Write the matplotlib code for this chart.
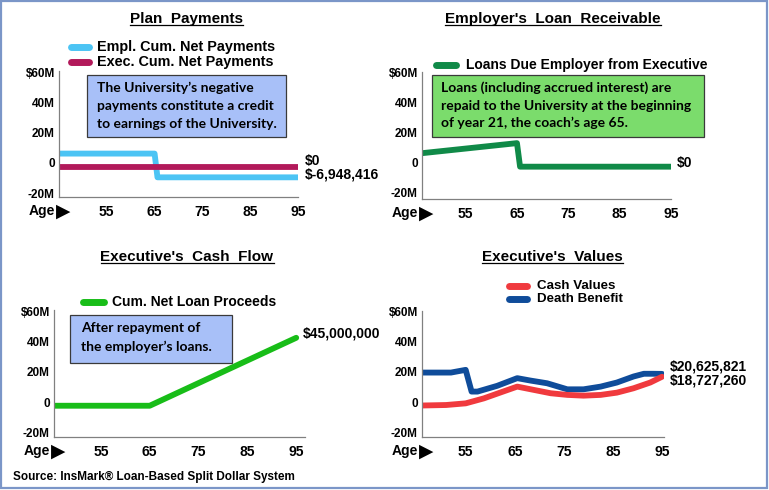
import numpy as np
import matplotlib
matplotlib.use('Agg')
import matplotlib.pyplot as plt
from matplotlib.lines import Line2D
from matplotlib.patches import Rectangle
import matplotlib.transforms as mtransforms

# Datos (edad, millones de dolares)
ticks_edad = [55, 65, 75, 85, 95]
ticks_y = [-20, 0, 20, 40, 60]
etiquetas_y = ['-20M', '0', '20M', '40M', '$60M']

edad_empl = [45, 65, 65.6, 95]
empl_pagos = [8.8, 8.8, -6.948416, -6.948416]
edad_exec = [45, 95]
exec_pagos = [0, 0]

edad_prestamo = [45, 65, 65.6, 95]
prestamo_empleador = [8.4, 15.6, 0, 0]

edad_flujo = [45, 65, 95]
flujo_neto = [0, 0, 45.0]

edad_muerte = [45, 52, 55, 56.2, 57.4, 61.4, 65.5, 68.2, 71.6, 75.7, 79, 82.5, 85.8, 89.2, 91.3, 93.3, 95]
beneficio_muerte = [21.5, 21.5, 23.3, 8.9, 8.9, 12.7, 17.8, 16.2, 14.4, 10.4, 10.4, 12.2, 14.9, 18.9, 20.7, 20.7, 20.626]
edad_cash = [45, 51, 55, 58.7, 62, 65.5, 68.9, 72.3, 75.7, 79, 82.5, 85.8, 89.2, 92.6, 95]
valor_cash = [-0.4, 0, 1.1, 4.4, 8.2, 12.2, 10, 7.8, 6.7, 6.2, 6.7, 8.2, 11.1, 14.9, 18.727]

W, H = 769, 490
FONT = 'Liberation Sans'
BOXFONT = 'Lato'

c_empl = '#4cc4f4'
c_exec = '#b2195a'
c_loan = '#108a48'
c_flujo = '#18bd18'
c_cash = '#f03a3e'
c_muerte = '#0f4c9a'

fig = plt.figure(figsize=(W / 100, H / 100), dpi=100)
fig.patch.set_facecolor('white')


def fx(x):
    return x / W


def fy(y):
    return 1 - y / H


def panel(izq, der, arriba, abajo, xlim, ylim, dy_lab):
    ax = fig.add_axes([fx(izq), fy(abajo), fx(der - izq), (abajo - arriba) / H])
    ax.set_xlim(*xlim)
    ax.set_ylim(*ylim)
    for s in ['top', 'right']:
        ax.spines[s].set_visible(False)
    for s in ['left', 'bottom']:
        ax.spines[s].set_color('#808080')
        ax.spines[s].set_linewidth(0.9)
    ax.set_xticks(ticks_edad)
    ax.set_xticklabels([str(t) for t in ticks_edad], fontsize=10, fontweight='bold', family=FONT)
    ax.set_yticks(ticks_y)
    ax.set_yticklabels(etiquetas_y, fontsize=8.5, fontweight='bold', family=FONT)
    ax.tick_params(axis='x', length=0, pad=6)
    ax.tick_params(axis='y', length=0, pad=3)
    off = mtransforms.ScaledTranslation(0, dy_lab / 100, fig.dpi_scale_trans)
    for t in ax.yaxis.get_major_ticks():
        t.label1.set_transform(t.label1.get_transform() + off)
    ax.patch.set_alpha(0)
    # Etiqueta "Age"
    fig.text(fx(izq - 4), fy(abajo + 14), 'Age', ha='right', va='center', fontsize=10,
             fontweight='bold', family=FONT)
    fig.text(fx(izq - 3), fy(abajo + 14), '\u25B6', ha='left', va='center', fontsize=13.5,
             family='DejaVu Sans')
    return ax


def titulo(xc, y, texto):
    t = fig.text(fx(xc), fy(y), texto, ha='center', va='baseline', fontsize=11,
                 fontweight='bold', family=FONT)
    fig.canvas.draw()
    bb = t.get_window_extent(fig.canvas.get_renderer())
    fig.add_artist(Line2D([bb.x0 / W, bb.x1 / W], [fy(y + 2), fy(y + 2)], color='black', lw=0.9))


def leyenda(x0, x1, y, color, texto, xt, fs=10):
    fig.add_artist(Line2D([fx(x0), fx(x1)], [fy(y), fy(y)], color=color, lw=5,
                          solid_capstyle='round'))
    fig.text(fx(xt), fy(y), texto, ha='left', va='center', fontsize=fs, fontweight='bold', family=FONT)


def caja(x0, x1, y0, y1, color, lineas, xt, y_lineas):
    fig.add_artist(Rectangle((fx(x0), fy(y1)), fx(x1 - x0), (y1 - y0) / H, facecolor=color,
                             edgecolor='#3a3a3a', lw=0.9, zorder=3))
    for l, yl in zip(lineas, y_lineas):
        fig.text(fx(xt), fy(yl), l, ha='left', va='center', fontsize=10, fontweight='bold',
                 family=BOXFONT, zorder=4)


def etiqueta(ax, x, y, texto, dx, dy):
    ax.annotate(texto, xy=(x, y), xytext=(dx, dy), textcoords='offset pixels', ha='left',
                va='center', fontsize=10, fontweight='bold', family=FONT, annotation_clip=False)


lw = 4.2

# Plan Payments
ax1 = panel(59, 298, 70.7, 197, (45, 95), (-19.9, 63.8), 4)
ax1.plot(edad_empl, empl_pagos, color=c_empl, lw=lw, solid_capstyle='round')
ax1.plot(edad_exec, exec_pagos, color=c_exec, lw=lw, solid_capstyle='round')
etiqueta(ax1, 95, exec_pagos[-1], '$0', 7, 6)
etiqueta(ax1, 95, empl_pagos[-1], '$-6,948,416', 7, 3)
titulo(186.5, 23, 'Plan  Payments')
leyenda(71, 89, 47.5, c_empl, 'Empl. Cum. Net Payments', 97, 10.4)
leyenda(71, 89, 61.5, c_exec, 'Exec. Cum. Net Payments', 97, 10.4)
caja(87, 286, 75, 137, '#a8c0f8',
     ['The University\u2019s negative', 'payments constitute a credit', 'to earnings of the University.'],
     97, [88.3, 106, 124])

# Employer's Loan Receivable
ax2 = panel(422, 671, 72, 199, (46.5, 95), (-21.4, 62.7), 4)
ax2.plot(edad_prestamo, prestamo_empleador, color=c_loan, lw=lw, solid_capstyle='round')
etiqueta(ax2, 95, prestamo_empleador[-1], '$0', 6, 4)
titulo(553, 23, 'Employer\'s  Loan  Receivable')
leyenda(436, 456, 65, c_loan, 'Loans Due Employer from Executive', 466)
caja(432, 704, 75, 137, '#7bdc6c',
     ['Loans (including accrued interest) are', 'repaid to the University at the beginning',
      'of year 21, the coach\u2019s age 65.'],
     441, [88, 106, 123])

# Executive's Cash Flow
ax3 = panel(54, 305, 310, 436.7, (45.4, 96.8), (-20.5, 63.4), 3.7)
ax3.plot(edad_flujo, flujo_neto, color=c_flujo, lw=lw, solid_capstyle='round')
etiqueta(ax3, 95, flujo_neto[-1], '$45,000,000', 7, 4)
titulo(187, 261, 'Executive\'s  Cash  Flow')
leyenda(83, 104, 302, c_flujo, 'Cum. Net Loan Proceeds', 112)
caja(70, 232, 315, 363, '#a8c0f8', ['After repayment of', 'the employer\u2019s loans.'],
     81, [328.3, 346.7])

# Executive's Values
ax4 = panel(422, 664, 310.7, 436.7, (46.1, 95.4), (-21, 62.5), 3)
ax4.plot(edad_muerte, beneficio_muerte, color=c_muerte, lw=lw, solid_capstyle='round')
ax4.plot(edad_cash, valor_cash, color=c_cash, lw=lw, solid_capstyle='round')
etiqueta(ax4, 95, beneficio_muerte[-1], '$20,625,821', 8, 7)
etiqueta(ax4, 95, valor_cash[-1], '$18,727,260', 8, -4)
titulo(552.7, 261, 'Executive\'s  Values')
leyenda(509, 527, 286, c_cash, 'Cash Values', 537, 9.6)
leyenda(509, 527, 299, c_muerte, 'Death Benefit', 537, 9.6)

fig.text(fx(13), fy(477), 'Source: InsMark\u00ae Loan-Based Split Dollar System', ha='left',
         va='center', fontsize=8.5, fontweight='bold', family=FONT)

# Marco
fig.add_artist(Rectangle((fx(1), fy(488)), fx(766), 487 / H, facecolor='none',
                         edgecolor='#7b96c8', lw=1.6, zorder=10))

fig.savefig('out.png', dpi=100)
